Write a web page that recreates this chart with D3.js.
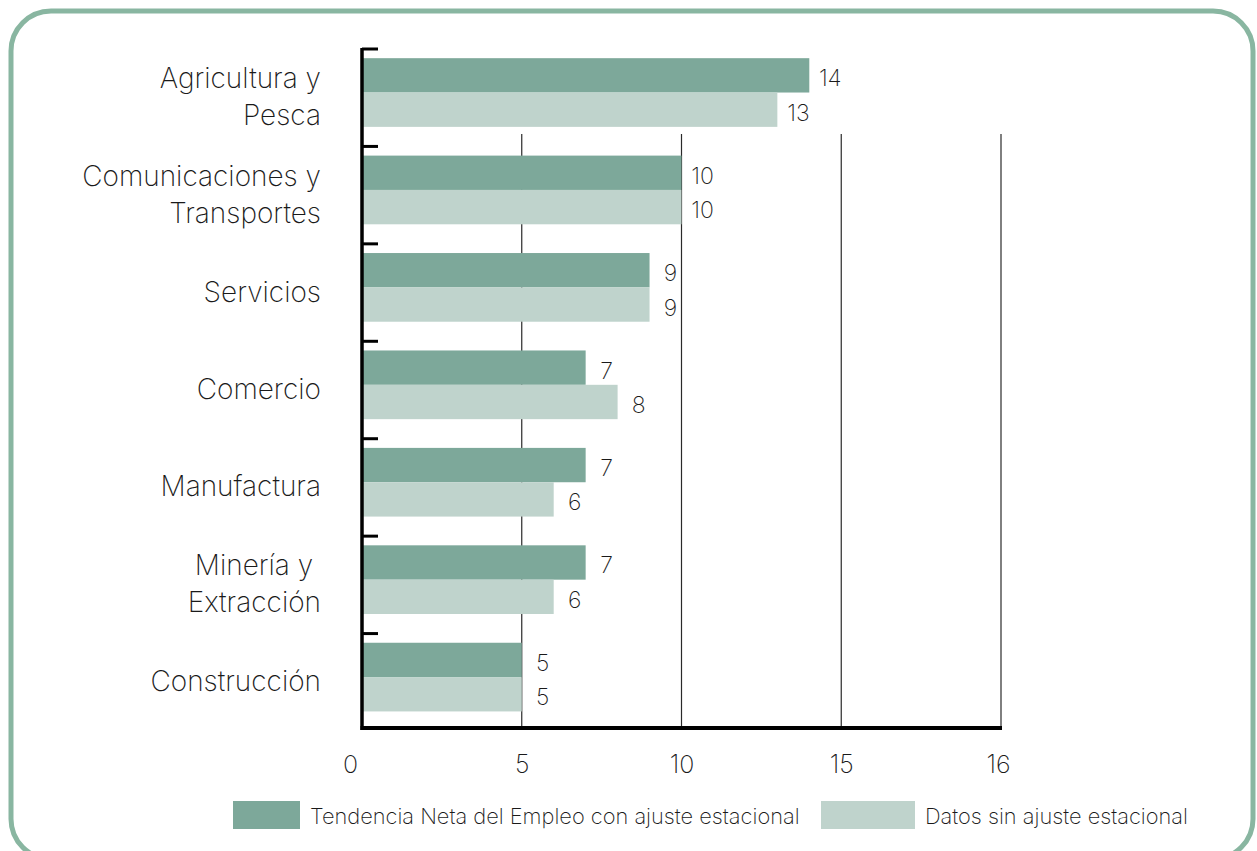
<!DOCTYPE html>
<html>
<head>
<meta charset="utf-8">
<script src="https://cdn.jsdelivr.net/npm/d3@7"></script>
<style>
  html, body { margin: 0; padding: 0; background: #ffffff; }
  svg { display: block; }
  text { font-family: Inter, "Liberation Sans", sans-serif; font-weight: 250; fill: #1a1a1a; }
</style>
</head>
<body>
<svg id="chart" width="1257" height="851"></svg>
<script>
// ---- data ----
const categories = [
  ["Agricultura y", "Pesca"],
  ["Comunicaciones y", "Transportes"],
  ["Servicios"],
  ["Comercio"],
  ["Manufactura"],
  ["Minería y ", "Extracción"],
  ["Construcción"]
];
const seriesNames = ["Tendencia Neta del Empleo con ajuste estacional", "Datos sin ajuste estacional"];
const seasonallyAdjusted = [14, 10, 9, 7, 7, 7, 5];
const notAdjusted = [13, 10, 9, 8, 6, 6, 5];
const xTickValues = [0, 5, 10, 15, 20];
const xTickLabels = ["0", "5", "10", "15", "16"];
const colors = ["#7da89a", "#bfd3cc"];

(function () {
// ---- layout ----
const svg = d3.select("#chart");
const mLeft = 362, mRight = 1001, mTop = 46, mBottom = 728;

// border
svg.append("rect")
  .attr("x", 11).attr("y", 11)
  .attr("width", 1242).attr("height", 848)
  .attr("rx", 40).attr("ry", 40)
  .attr("fill", "none")
  .attr("stroke", "#89b6a1")
  .attr("stroke-width", 5);

const x = d3.scaleLinear().domain([0, 20]).range([mLeft, mRight]);
const y = d3.scaleBand().domain(d3.range(categories.length)).range([mTop, mBottom]).paddingInner(0).paddingOuter(0);
const step = y.bandwidth();
const sub = d3.scaleBand().domain([0, 1]).range([step * 0.125, step * 0.83]).padding(0);

// gridlines
svg.append("g").selectAll("line")
  .data(xTickValues.filter(v => v > 0))
  .join("line")
  .attr("x1", d => x(d)).attr("x2", d => x(d))
  .attr("y1", 134).attr("y2", mBottom)
  .attr("stroke", "#2a2a2a").attr("stroke-width", 1.2);

// bars
const rows = categories.map((c, i) => ({ i, values: [seasonallyAdjusted[i], notAdjusted[i]] }));
const groups = svg.append("g").selectAll("g")
  .data(rows).join("g")
  .attr("transform", d => `translate(0,${y(d.i)})`);

groups.selectAll("rect")
  .data(d => d.values.map((v, k) => ({ v, k })))
  .join("rect")
  .attr("x", x(0))
  .attr("y", d => sub(d.k))
  .attr("width", d => x(d.v) - x(0))
  .attr("height", sub.bandwidth())
  .attr("fill", d => colors[d.k]);

groups.selectAll("text.val")
  .data(d => d.values.map((v, k) => ({ v, k })))
  .join("text")
  .attr("class", "val")
  .attr("x", d => x(d.v) + 21)
  .attr("y", d => sub(d.k) + sub.bandwidth() / 2 + 3)
  .attr("text-anchor", "middle")
  .attr("dominant-baseline", "central")
  .attr("font-size", 23)
  .text(d => d.v);

// y axis
const yAxis = d3.axisRight(y).tickSize(16).tickFormat("");
const yg = svg.append("g").attr("transform", `translate(${mLeft},0)`).call(yAxis);
yg.select(".domain").remove();
yg.selectAll(".tick").attr("transform", d => `translate(0,${y(d) + 3})`);
yg.selectAll(".tick line").attr("stroke", "#000").attr("stroke-width", 3);
svg.append("line")
  .attr("x1", mLeft).attr("x2", mLeft)
  .attr("y1", mTop + 2).attr("y2", mBottom + 2)
  .attr("stroke", "#000").attr("stroke-width", 3.5);

// category labels
const lab = svg.append("g").selectAll("text")
  .data(categories.map((c, i) => ({ c, i })))
  .join("text")
  .attr("text-anchor", "end")
  .attr("font-size", 28)
  .attr("transform", d => `translate(321,${y(d.i) + step / 2 + 2})`);
lab.selectAll("tspan")
  .data(d => d.c.map((t, j) => ({ t, j, n: d.c.length })))
  .join("tspan")
  .attr("x", 0)
  .attr("y", d => (d.j - (d.n - 1) / 2) * 37)
  .attr("dominant-baseline", "central")
  .text(d => d.t);

// x axis
const xAxis = d3.axisBottom(x).tickValues(xTickValues).tickSize(0).tickPadding(27)
  .tickFormat((d, i) => xTickLabels[i]);
const xg = svg.append("g").attr("transform", `translate(0,${mBottom})`).call(xAxis);
xg.select(".domain").remove();
xg.selectAll(".tick text")
  .attr("font-size", 25)
  .attr("font-family", "Inter, sans-serif")
  .attr("font-weight", 250)
  .attr("dx", (d, i) => i === 0 ? -12 : (i === xTickValues.length - 1 ? -3 : 0))
  .style("fill", "#1a1a1a");
svg.append("line")
  .attr("x1", mLeft - 1.5).attr("x2", mRight + 1)
  .attr("y1", mBottom).attr("y2", mBottom)
  .attr("stroke", "#000").attr("stroke-width", 4);

// legend
const legendX = [233, 821];
const legendW = [67, 94];
const lg = svg.append("g").selectAll("g")
  .data(seriesNames.map((n, k) => ({ n, k })))
  .join("g")
  .attr("transform", d => `translate(${legendX[d.k]},801)`);
lg.append("rect")
  .attr("width", d => legendW[d.k]).attr("height", 28)
  .attr("fill", d => colors[d.k]);
lg.append("text")
  .attr("x", d => legendW[d.k] + 10)
  .attr("y", 15)
  .attr("dominant-baseline", "central")
  .attr("font-size", 21.8)
  .text(d => d.n);
})();
</script>
</body>
</html>
